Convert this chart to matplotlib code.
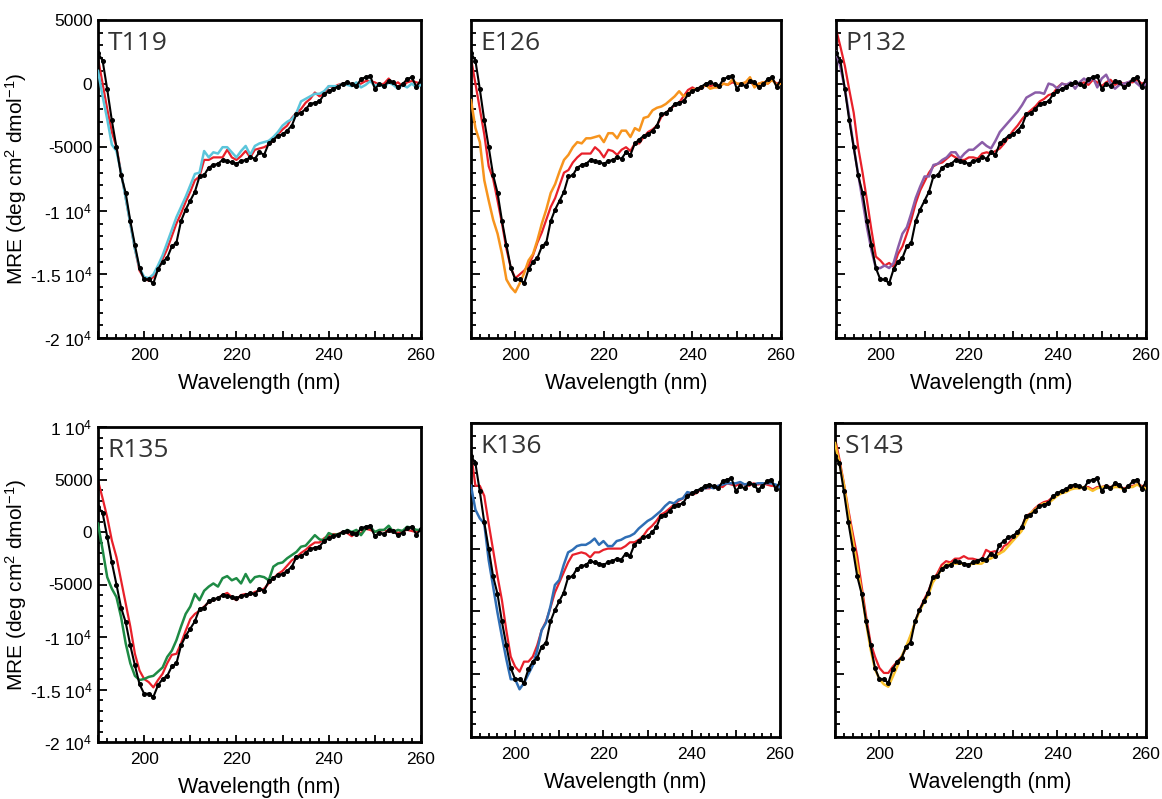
import numpy as np
import matplotlib
matplotlib.use('Agg')
import matplotlib.pyplot as plt
from matplotlib.ticker import MultipleLocator

plt.rcParams['font.family'] = ['Liberation Sans', 'DejaVu Sans']
plt.rcParams['mathtext.fontset'] = 'custom'
plt.rcParams['mathtext.rm'] = 'Liberation Sans'
plt.rcParams['mathtext.it'] = 'Liberation Sans:italic'

# wavelength grid (nm), one reading per nm
wl = np.arange(190, 261)

# MRE values in units of 1000 deg cm2 dmol-1
wt_black = [2.4, 1.8, -0.45, -2.9, -5.0, -7.2, -8.6, -10.8, -12.7, -14.5,
            -15.4, -15.4, -15.7, -14.6, -14.0, -13.7, -12.8, -12.5, -10.8, -9.9,
            -9.2, -8.5, -7.3, -7.2, -6.6, -6.4, -6.3, -6.0, -6.1, -6.2,
            -6.3, -6.1, -6.0, -5.8, -5.9, -5.4, -5.6, -4.7, -4.4, -4.1,
            -4.0, -3.7, -3.3, -2.4, -2.3, -2.0, -1.6, -1.5, -1.4, -0.85,
            -0.6, -0.4, -0.25, 0.0, 0.1, -0.05, -0.2, 0.35, 0.5, 0.6,
            -0.4, -0.05, -0.2, 0.2, 0.1, -0.3, -0.05, 0.35, 0.5, -0.25, 0.3]

t119_red = [2.0, 0.0, -2.0, -3.8, -5.0, -7.0, -9.0, -11.0, -13.0, -14.7,
            -15.3, -15.5, -15.2, -14.6, -13.8, -13.0, -12.0, -11.0, -10.2, -9.3,
            -8.5, -7.6, -7.3, -6.0, -6.0, -5.8, -5.8, -5.8, -5.2, -5.8,
            -6.0, -5.7, -5.3, -5.8, -5.2, -5.1, -5.0, -4.8, -4.5, -4.0,
            -3.6, -3.3, -2.7, -2.3, -2.0, -1.5, -1.2, -0.7, -1.0, -0.8,
            -0.2, -0.3, -0.1, 0.0, -0.1, 0.0, -0.1, 0.0, 0.2, 0.2,
            0.1, -0.1, 0.0, 0.4, -0.1, 0.1, -0.2, 0.1, 0.2, 0.1, 0.0]
t119_mut = [1.0, -1.0, -2.8, -4.8, -5.3, -7.0, -9.0, -11.0, -13.0, -14.5,
            -15.2, -15.3, -15.0, -14.3, -13.5, -12.5, -11.5, -10.5, -9.7, -8.9,
            -8.0, -7.1, -7.0, -5.3, -5.8, -5.4, -5.5, -5.0, -5.0, -5.4,
            -5.8, -5.3, -4.9, -5.6, -4.9, -4.7, -4.6, -4.5, -4.2, -3.8,
            -3.3, -3.0, -2.8, -2.3, -1.4, -1.2, -1.0, -0.8, -0.8, -0.6,
            -0.2, -0.2, -0.2, 0.0, -0.1, -0.2, 0.1, -0.3, -0.1, 0.2,
            -0.2, 0.0, -0.3, 0.1, -0.1, -0.4, -0.1, -0.3, 0.0, -0.3, -0.1]

e126_red = [2.0, 0.0, -2.0, -4.0, -6.5, -7.5, -9.2, -11.0, -13.0, -14.5,
            -15.3, -15.0, -14.7, -14.3, -13.5, -12.5, -11.7, -10.7, -9.7, -9.0,
            -8.0, -7.0, -6.8, -6.2, -5.8, -5.5, -5.5, -5.5, -5.0, -5.3,
            -5.8, -5.2, -5.3, -5.6, -5.2, -5.0, -5.3, -4.7, -4.7, -4.2,
            -3.8, -3.6, -3.3, -2.6, -2.3, -2.0, -1.7, -1.5, -1.0, -0.5,
            -0.3, -0.5, -0.4, -0.1, -0.2, -0.1, -0.2, 0.0, -0.1, 0.1,
            0.0, -0.1, 0.1, 0.2, -0.2, 0.0, 0.1, 0.0, 0.3, 0.0, 0.1]
e126_mut = [-1.3, -3.5, -4.6, -7.6, -9.2, -10.7, -11.8, -13.4, -15.4, -16.0,
            -16.4, -15.7, -14.9, -13.9, -13.4, -12.3, -11.0, -9.9, -8.6, -7.9,
            -6.9, -6.0, -5.6, -5.0, -4.6, -4.7, -4.3, -4.3, -4.2, -4.1,
            -4.6, -3.9, -3.9, -4.3, -3.7, -3.7, -4.2, -3.5, -3.7, -2.7,
            -2.6, -2.1, -1.9, -1.8, -1.6, -1.3, -1.0, -0.6, -1.0, -0.8,
            -0.5, -0.4, -0.3, -0.1, -0.4, -0.3, -0.3, 0.0, -0.1, 0.3,
            0.0, 0.0, 0.1, 0.5, -0.3, 0.0, 0.1, 0.0, 0.3, -0.1, 0.0]

p132_red = [4.3, 2.9, 1.4, -0.5, -2.3, -5.0, -7.0, -9.2, -11.5, -13.6,
            -13.9, -14.3, -14.1, -14.4, -13.4, -12.8, -11.8, -10.7, -9.4, -8.4,
            -7.7, -7.0, -6.5, -6.3, -6.2, -5.9, -5.6, -5.8, -6.0, -6.0,
            -5.8, -5.8, -5.9, -5.5, -5.4, -5.5, -5.3, -5.1, -4.7, -4.2,
            -3.7, -3.3, -2.8, -2.4, -2.1, -1.8, -1.4, -1.2, -0.9, -0.8,
            -0.3, 0.0, -0.1, -0.1, 0.0, -0.1, 0.1, -0.1, 0.3, 0.1,
            -0.2, 0.1, 0.3, -0.1, 0.1, 0.0, 0.1, 0.1, 0.3, 0.0, 0.1]
p132_mut = [2.5, 1.3, -0.4, -2.6, -5.0, -7.1, -9.2, -11.3, -13.1, -14.5,
            -14.5, -14.3, -14.5, -14.1, -12.9, -11.8, -11.3, -10.2, -9.0, -8.1,
            -7.3, -7.3, -6.4, -6.3, -6.0, -5.8, -5.4, -5.4, -5.9, -5.5,
            -5.2, -5.2, -4.9, -4.6, -4.9, -5.1, -4.5, -3.8, -3.4, -3.0,
            -2.6, -2.2, -1.7, -1.1, -0.9, -0.7, -0.7, -0.8, 0.0, -0.1,
            -0.4, 0.0, -0.1, 0.1, -0.4, 0.1, 0.4, 0.1, 0.5, -0.3,
            0.4, 0.7, 0.0, -0.4, -0.1, 0.0, 0.1, 0.3, 0.0, -0.3, 0.0]

r135_red = [4.9, 3.2, 1.4, -0.8, -2.4, -4.6, -6.8, -9.0, -11.6, -13.2,
            -14.0, -14.3, -14.8, -14.1, -13.5, -12.5, -11.7, -11.6, -10.6, -9.4,
            -8.3, -7.8, -7.5, -7.1, -6.7, -6.5, -6.3, -6.0, -5.8, -6.2,
            -6.5, -6.0, -5.9, -6.0, -5.7, -5.6, -5.4, -4.9, -4.4, -4.0,
            -3.7, -3.2, -2.7, -2.4, -2.0, -1.7, -1.3, -1.0, -1.0, -0.6,
            -0.3, -0.2, -0.2, 0.0, -0.1, -0.4, 0.0, -0.1, 0.3, 0.2,
            0.0, 0.1, 0.2, 0.0, 0.2, -0.1, 0.1, 0.2, 0.1, 0.0, 0.2]
r135_mut = [0.8, -1.7, -4.3, -5.4, -6.2, -8.1, -10.6, -12.5, -13.7, -14.1,
            -14.0, -13.8, -13.7, -13.3, -12.9, -11.9, -11.3, -10.3, -9.0, -7.8,
            -7.1, -5.9, -6.5, -5.6, -5.2, -4.9, -5.2, -4.4, -4.2, -4.6,
            -4.4, -4.9, -4.0, -4.8, -4.3, -4.2, -4.3, -4.6, -3.3, -3.0,
            -2.9, -2.5, -2.2, -1.9, -1.4, -1.3, -0.8, -0.3, -0.7, -0.8,
            -0.1, -0.3, -0.2, -0.1, 0.2, 0.0, 0.2, -0.3, 0.3, 0.5,
            0.0, 0.2, 0.2, 0.6, 0.0, 0.2, 0.1, 0.5, 0.4, 0.2, 0.2]

k136_red = [2.6, 0.0, 0.0, -0.8, -3.0, -5.1, -7.2, -9.1, -11.5, -13.6,
            -14.4, -14.8, -14.0, -14.0, -13.6, -12.7, -11.5, -10.8, -9.7, -8.5,
            -7.7, -6.9, -6.1, -5.5, -5.4, -5.3, -5.4, -5.7, -5.3, -5.3,
            -5.1, -5.0, -5.0, -5.0, -5.0, -4.8, -4.5, -4.5, -4.3, -4.0,
            -3.5, -3.2, -2.8, -2.3, -2.1, -1.8, -1.5, -1.2, -1.0, -0.6,
            -0.7, -0.6, -0.3, -0.2, -0.2, -0.1, 0.0, -0.1, 0.2, 0.1,
            0.0, 0.2, 0.1, 0.0, 0.2, 0.1, 0.2, 0.1, 0.0, 0.0, -0.1]
k136_mut = [0.0, -1.9, -2.6, -3.0, -5.9, -8.0, -10.1, -12.0, -13.8, -15.4,
            -15.4, -16.2, -15.7, -15.0, -14.3, -13.1, -11.5, -10.9, -9.6, -7.9,
            -7.5, -6.3, -5.3, -5.1, -4.8, -4.7, -4.7, -4.5, -4.2, -4.7,
            -4.4, -4.8, -4.8, -4.4, -4.3, -4.1, -4.0, -3.8, -3.4, -3.1,
            -2.8, -2.6, -2.3, -2.0, -1.6, -1.3, -1.4, -1.1, -1.0, -0.5,
            -0.6, -0.4, -0.3, -0.2, -0.1, -0.2, 0.0, 0.1, 0.2, 0.2,
            0.2, 0.3, 0.1, 0.2, 0.1, 0.2, 0.2, 0.2, 0.2, 0.1, -0.1]

s143_red = [3.8, 2.1, 0.2, -1.9, -3.8, -5.6, -8.0, -10.4, -12.5, -13.6,
            -14.5, -14.9, -14.9, -14.4, -14.0, -13.6, -12.9, -12.0, -10.9, -9.9,
            -9.1, -8.4, -7.5, -7.0, -6.3, -6.0, -6.1, -5.8, -5.8, -5.6,
            -5.8, -5.8, -5.9, -5.9, -5.1, -5.3, -5.2, -5.4, -4.8, -4.6,
            -4.2, -3.8, -3.4, -2.4, -2.2, -1.8, -1.5, -1.3, -1.2, -0.9,
            -0.7, -0.5, -0.3, -0.2, -0.1, -0.2, -0.1, -0.1, -0.3, -0.1,
            -0.1, 0.0, -0.1, 0.0, -0.1, -0.2, -0.1, 0.0, 0.1, 0.0, -0.1]
s143_mut = [3.4, 1.8, 0.1, -2.2, -4.3, -6.4, -8.5, -10.9, -13.0, -14.6,
            -15.4, -15.8, -16.0, -15.2, -14.4, -13.6, -12.8, -11.9, -10.9, -10.0,
            -9.3, -8.7, -7.7, -7.2, -6.6, -6.3, -6.2, -6.2, -6.2, -6.2,
            -6.3, -6.2, -6.2, -6.2, -5.9, -5.8, -5.6, -5.4, -5.2, -4.8,
            -4.4, -4.0, -3.6, -2.8, -2.2, -1.9, -1.6, -1.4, -1.4, -1.1,
            -0.8, -0.6, -0.5, -0.3, -0.2, -0.2, -0.1, -0.2, -0.4, -0.2,
            -0.1, -0.1, -0.2, -0.1, -0.1, -0.3, -0.1, -0.1, 0.1, -0.1, -0.2]

panel_names = ['T119', 'E126', 'P132', 'R135', 'K136', 'S143']
red_series = [t119_red, e126_red, p132_red, r135_red, k136_red, s143_red]
mut_series = [t119_mut, e126_mut, p132_mut, r135_mut, k136_mut, s143_mut]
mut_colors = ['#5BC5DB', '#F7941D', '#8B5DA8', '#1E8B45', '#2F6EB5', '#F8C12C']

# axes boxes in pixels: left, top, right, bottom
boxes = [(98, 20, 421, 338), (471, 20, 781, 338), (836, 20, 1146, 338),
         (98, 427, 421, 742), (471, 423, 780, 737), (835, 423, 1146, 737)]

W, H = 1162, 799
fig = plt.figure(figsize=(W / 100, H / 100), dpi=100)

for i, name in enumerate(panel_names):
    l, t, r, b = boxes[i]
    ax = fig.add_axes([l / W, (H - b) / H, (r - l) / W, (b - t) / H])

    ax.plot(wl, np.array(red_series[i]) * 1000, color='#E8202A', lw=1.6, zorder=2)
    ax.plot(wl, np.array(mut_series[i]) * 1000, color=mut_colors[i], lw=1.8, zorder=3)
    ax.plot(wl, np.array(wt_black) * 1000, color='black', lw=1.5, marker='o',
            ms=2.6, zorder=4)

    ax.set_xlim(190, 260)
    ax.set_xticks(range(190, 261, 10))
    ax.set_xticklabels(['' if v % 20 else str(v) for v in range(190, 261, 10)])
    ax.xaxis.set_minor_locator(MultipleLocator(2))

    e4 = ' 10$^4$'
    if name == 'R135':
        ax.set_ylim(-20000, 10000)
        yt = [10000, 5000, 0, -5000, -10000, -15000, -20000]
        ylabs = ['1' + e4, '5000', '0', '-5000', '-1' + e4, '-1.5' + e4, '-2' + e4]
    else:
        ax.set_ylim(-20000, 5000)
        yt = [5000, 0, -5000, -10000, -15000, -20000]
        ylabs = ['5000', '0', '-5000', '-1' + e4, '-1.5' + e4, '-2' + e4]
    ax.set_yticks(yt)
    ax.yaxis.set_minor_locator(MultipleLocator(1000))
    if i % 3 == 0:
        ax.set_yticklabels(ylabs)
        ax.set_ylabel('MRE (deg cm$^2$ dmol$^{-1}$)', fontsize=15)
        ax.yaxis.set_label_coords(-0.215, 0.5)
    else:
        ax.set_yticklabels([])

    ax.xaxis.set_ticks_position('bottom')
    ax.yaxis.set_ticks_position('left')
    ax.tick_params(which='both', direction='in', labelsize=12.5, width=1.3)
    ax.tick_params(axis='y', which='major', length=6.5, pad=4)
    ax.tick_params(axis='y', which='minor', length=3.5)
    ax.tick_params(axis='x', which='major', length=5, pad=7)
    ax.tick_params(axis='x', which='minor', length=3)
    for sp in ax.spines.values():
        sp.set_linewidth(2)

    ax.set_xlabel('Wavelength (nm)', fontsize=15.5, labelpad=7.5)
    ax.text(0.03, 1 - 11 / (b - t), name, transform=ax.transAxes, ha='left', va='top',
            fontsize=19, color='#333333', family=['Open Sans', 'DejaVu Sans'])

fig.savefig('out.png', dpi=100)
